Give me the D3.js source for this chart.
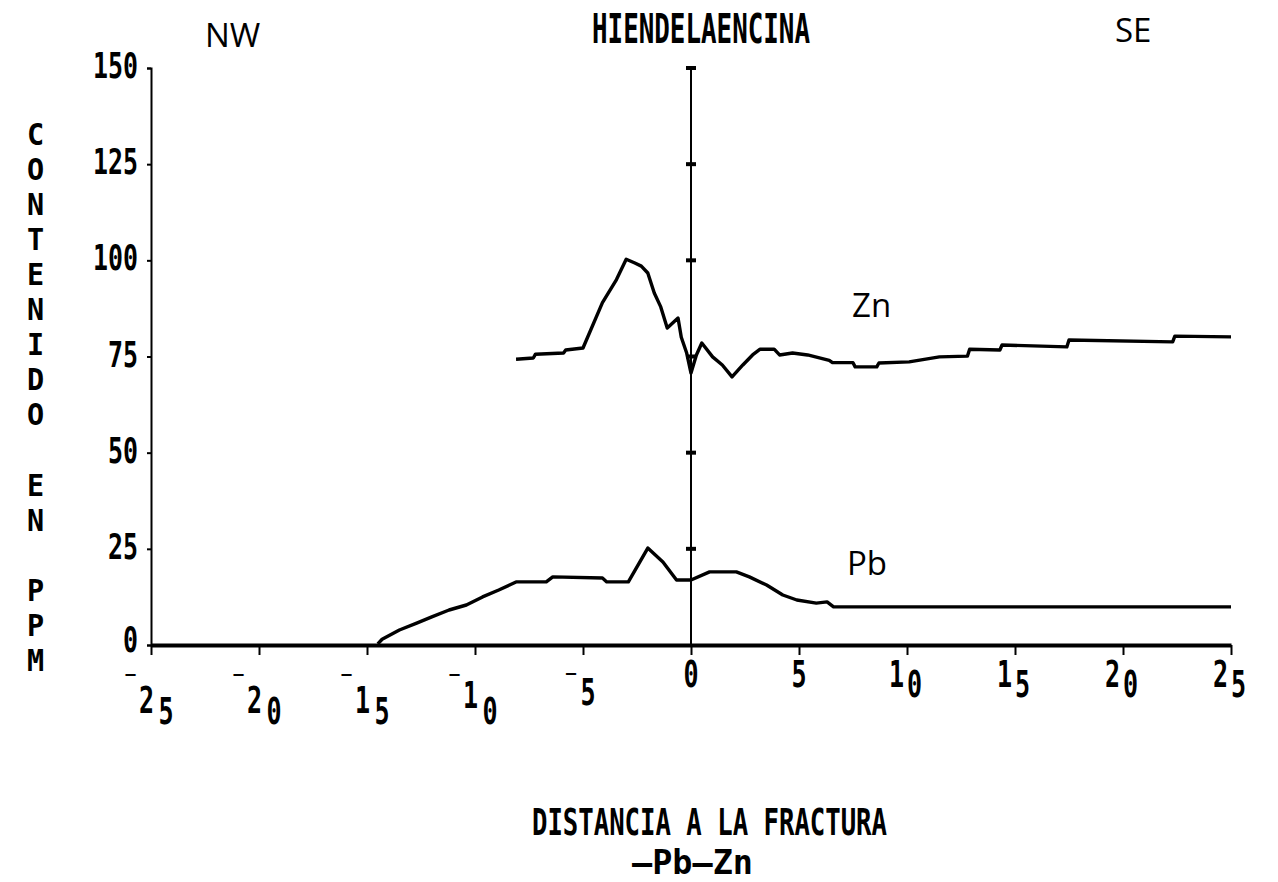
<!DOCTYPE html>
<html>
<head>
<meta charset="utf-8">
<script src="https://d3js.org/d3.v7.min.js"></script>
<style>
  html, body { margin: 0; padding: 0; background: #fff; }
  svg { display: block; }
</style>
</head>
<body>
<svg id="chart" width="1278" height="882"></svg>
<script>
// ---------------- data ----------------
const title = "HIENDELAENCINA";
const leftLabel = "NW";
const rightLabel = "SE";
const yTitle = "CONTENIDO EN PPM";
const xTitle = "DISTANCIA A LA FRACTURA";
const legendText = "—Pb—Zn";
const seriesNames = ["Zn", "Pb"];

const xTicks = [-25, -20, -15, -10, -5, 0, 5, 10, 15, 20, 25];
const yTicks = [0, 25, 50, 75, 100, 125, 150];
const yTickLabels = ["0", "25", "50", "75", "100", "125", "150"];

// Zn: distance (x) and content in ppm (y)
const znX = [-8.1, -7.3, -7.2, -5.9, -5.8, -5.0, -4.1, -3.45, -3.0, -2.6, -2.3, -2.0, -1.7, -1.4, -1.1, -0.6, -0.45, -0.2, 0.0, 0.25, 0.5, 1.0, 1.45, 1.9, 2.4, 2.85, 3.2, 3.85, 4.1, 4.7, 5.4, 6.4, 6.55, 7.5, 7.6, 8.6, 8.7, 10.1, 11.5, 12.8, 12.9, 14.3, 14.4, 17.4, 17.5, 22.3, 22.4, 25.0];
const znY = [74.3, 74.6, 75.6, 75.9, 76.7, 77.2, 89.0, 95.0, 100.3, 99.3, 98.5, 96.7, 91.5, 87.9, 82.4, 85.0, 80.0, 75.9, 70.7, 75.4, 78.5, 74.9, 72.8, 69.7, 72.8, 75.4, 76.9, 76.9, 75.4, 75.9, 75.4, 74.0, 73.4, 73.4, 72.3, 72.3, 73.3, 73.6, 74.9, 75.1, 76.9, 76.7, 78.0, 77.5, 79.3, 78.8, 80.3, 80.1];

// Pb
const pbX = [-14.5, -14.3, -13.5, -12.7, -12.0, -11.2, -10.4, -9.65, -8.9, -8.4, -8.1, -6.7, -6.4, -4.1, -3.9, -2.9, -2.0, -1.3, -0.67, 0.0, 0.86, 2.1, 2.7, 3.5, 4.25, 4.9, 5.8, 6.3, 6.6, 25.0];
const pbY = [0.3, 1.5, 3.9, 5.7, 7.3, 9.1, 10.4, 12.5, 14.3, 15.6, 16.4, 16.4, 17.7, 17.4, 16.4, 16.4, 25.2, 21.6, 16.9, 16.9, 19.0, 19.0, 17.7, 15.6, 13.0, 11.7, 10.9, 11.2, 9.9, 9.9];

// ---------------- drawing ----------------
const svg = d3.select("#chart");
const W = 1278, H = 882;
const margin = { left: 151, right: 47, top: 68, bottom: 237 };

const x = d3.scaleLinear().domain([-25, 25]).range([margin.left, W - margin.right]);
const y = d3.scaleLinear().domain([0, 150]).range([H - margin.bottom, margin.top]);

const MONO = "'DejaVu Sans Mono', 'Liberation Mono', monospace";
const SANS = "'Open Sans', 'Liberation Sans', sans-serif";

function monoText(parent, str, px, py, size, len, anchor) {
  const t = parent.append("text")
    .attr("x", px).attr("y", py)
    .attr("font-family", MONO)
    .attr("font-weight", "bold")
    .attr("font-size", size)
    .attr("fill", "#000")
    .attr("text-anchor", anchor || "start")
    .text(str);
  if (len) t.attr("textLength", len).attr("lengthAdjust", "spacingAndGlyphs");
  return t;
}

// single glyph, centred at (cx), baseline by, condensed horizontally by sx
function glyph(parent, ch, cx, by, size, sx) {
  return parent.append("text")
    .attr("transform", `translate(${cx},${by}) scale(${sx},1)`)
    .attr("x", 0).attr("y", 0)
    .attr("text-anchor", "middle")
    .attr("font-family", MONO)
    .attr("font-weight", "bold")
    .attr("font-size", size)
    .attr("fill", "#000")
    .text(ch);
}

// Y axis (left)
const yAxis = d3.axisLeft(y).tickValues(yTicks).tickSize(4).tickFormat("");
const gy = svg.append("g").attr("transform", `translate(${x(-25)},0)`).call(yAxis);
gy.select(".domain").attr("stroke", "#000").attr("stroke-width", 2);
gy.selectAll(".tick line").attr("stroke", "#000").attr("stroke-width", 2);

yTicks.forEach((v, i) => {
  const lbl = yTickLabels[i];
  monoText(svg, lbl, x(-25) - 13, y(v) + (v === 0 ? 7 : 10), 35, lbl.length * 15, "end");
});

// X axis (bottom)
const xAxis = d3.axisBottom(x).tickValues(xTicks).tickSize(10).tickSizeOuter(0).tickFormat("");
const gx = svg.append("g").attr("transform", `translate(0,${y(0)})`).call(xAxis);
gx.select(".domain").attr("stroke", "#000").attr("stroke-width", 4);
gx.selectAll(".tick line").attr("stroke", "#000").attr("stroke-width", 2);

// Plotter-style tick labels: minus raised, second digit dropped
const gxl = svg.append("g");
xTicks.forEach(v => {
  const c = x(v);
  const digits = String(Math.abs(v)).split("");
  if (v < 0) {
    if (digits.length === 2) {
      glyph(gxl, "⁻", c - 20.5, 690, 30, 1.0);
      glyph(gxl, digits[0], c - 4.5, v === -10 ? 708 : 713, 38, 0.66);
      glyph(gxl, digits[1], c + 15, 724, 38, 0.66);
    } else {
      glyph(gxl, "⁻", c - 12, 689, 30, 1.0);
      glyph(gxl, digits[0], c + 5, 705, 38, 0.66);
    }
  } else if (digits.length === 2) {
    glyph(gxl, digits[0], c - 10.5, 687, 38, 0.66);
    glyph(gxl, digits[1], c + 7.5, 697, 38, 0.66);
  } else {
    glyph(gxl, digits[0], c, 687, 38, 0.66);
  }
});

// Central fracture line at x = 0 with tick dashes
const gc = svg.append("g");
gc.append("line")
  .attr("x1", x(0)).attr("x2", x(0))
  .attr("y1", y(150)).attr("y2", y(0))
  .attr("stroke", "#000").attr("stroke-width", 2);
gc.selectAll("rect.cdash").data(yTicks.filter(v => v > 0)).join("rect")
  .attr("class", "cdash")
  .attr("x", x(0) - 5).attr("y", d => y(d) - 2)
  .attr("width", 10).attr("height", 4).attr("fill", "#000");

// Series lines
const line = d3.line().x(d => x(d[0])).y(d => y(d[1]));
const znData = znX.map((v, i) => [v, znY[i]]);
const pbData = pbX.map((v, i) => [v, pbY[i]]);

svg.append("path").datum(znData)
  .attr("d", line).attr("fill", "none").attr("stroke", "#000")
  .attr("stroke-width", 3.4).attr("stroke-linejoin", "round");
svg.append("path").datum(pbData)
  .attr("d", line).attr("fill", "none").attr("stroke", "#000")
  .attr("stroke-width", 3.4).attr("stroke-linejoin", "round");

// Series labels
svg.append("text").attr("x", 852).attr("y", 317)
  .attr("font-family", SANS).attr("font-size", 33).attr("fill", "#000").text(seriesNames[0]);
svg.append("text").attr("x", 847).attr("y", 575)
  .attr("font-family", SANS).attr("font-size", 33).attr("fill", "#000").text(seriesNames[1]);

// Title and direction labels
monoText(svg, title, 592, 43, 41, 218);
svg.append("text").attr("x", 205).attr("y", 47)
  .attr("font-family", SANS).attr("font-size", 33).attr("fill", "#000").text(leftLabel);
svg.append("text").attr("x", 1115).attr("y", 42)
  .attr("font-family", SANS).attr("font-size", 33).attr("fill", "#000").text(rightLabel);

// Vertical stacked Y title: one letter per line
const gyt = svg.append("g");
yTitle.split("").forEach((ch, i) => {
  if (ch === " ") return;
  glyph(gyt, ch, 35.5, 133.5 + i * 35.1 + 11, 30, 0.95);
});

// Bottom titles
monoText(svg, xTitle, 532, 835, 37, 355);
monoText(svg, legendText, 632, 874, 33, 121);
</script>
</body>
</html>
